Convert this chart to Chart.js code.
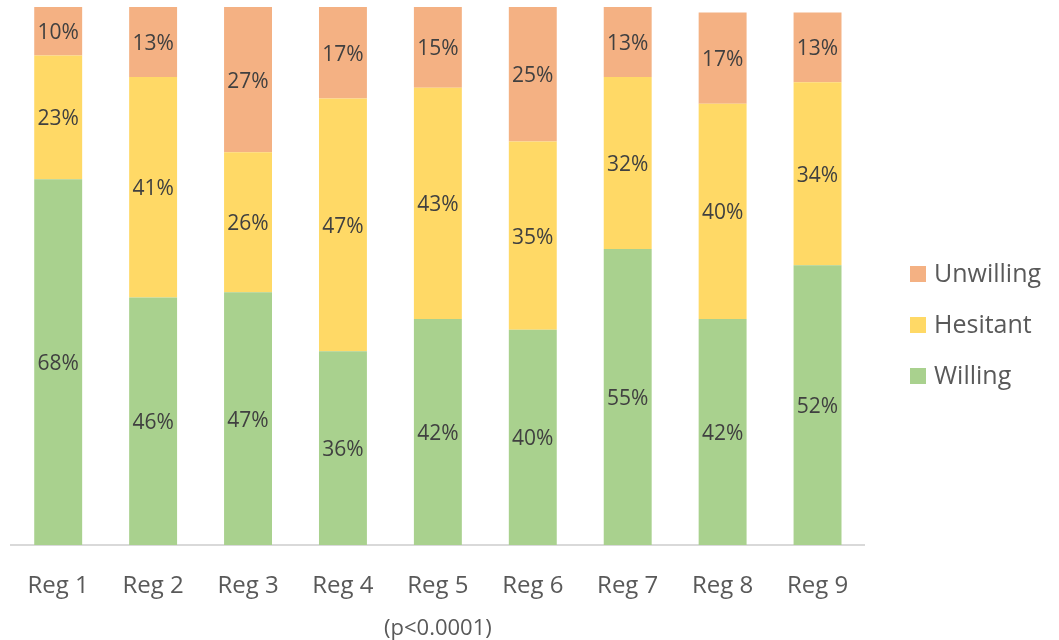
<!DOCTYPE html>
<html>
<head>
<meta charset="utf-8">
<script src="https://cdn.jsdelivr.net/npm/chart.js@4.4.1/dist/chart.umd.min.js"></script>
<style>
html,body{margin:0;padding:0;background:#fff;}
canvas{display:block;}
</style>
</head>
<body>
<canvas id="c" width="1059" height="640"></canvas>
<script>
const categories = ['Reg 1','Reg 2','Reg 3','Reg 4','Reg 5','Reg 6','Reg 7','Reg 8','Reg 9'];
const willing   = [68, 46, 47, 36, 42, 40, 55, 42, 52];
const hesitant  = [23, 41, 26, 47, 43, 35, 32, 40, 34];
const unwilling = [10, 13, 27, 17, 15, 25, 13, 17, 13];
const xTitle = '(p<0.0001)';

const FONT = "'Open Sans', sans-serif";

const valueLabels = {
  id: 'valueLabels',
  afterDatasetsDraw(chart) {
    const ctx = chart.ctx;
    const area = chart.chartArea;
    ctx.save();
    ctx.font = "21px " + FONT;
    ctx.fillStyle = '#404040';
    ctx.textAlign = 'center';
    ctx.textBaseline = 'middle';
    chart.data.datasets.forEach((ds, di) => {
      const meta = chart.getDatasetMeta(di);
      meta.data.forEach((el, i) => {
        const top = Math.max(Math.min(el.y, el.base), area.top);
        const bot = Math.min(Math.max(el.y, el.base), area.bottom);
        ctx.fillText(ds.data[i] + '%', el.x, (top + bot) / 2 + 2);
      });
    });
    ctx.restore();
  }
};

const sideLegend = {
  id: 'sideLegend',
  afterDraw(chart) {
    const ctx = chart.ctx;
    const ds = chart.data.datasets.slice().reverse();
    ctx.save();
    ctx.font = "25px " + FONT;
    ctx.textBaseline = 'middle';
    ctx.textAlign = 'left';
    ds.forEach((d, i) => {
      const cy = 274 + i * 51;
      ctx.fillStyle = d.backgroundColor;
      ctx.fillRect(910, cy - 8, 16, 16);
      ctx.fillStyle = '#595959';
      ctx.fillText(d.label, 934, cy + 1);
    });
    ctx.restore();
  }
};

new Chart(document.getElementById('c'), {
  type: 'bar',
  data: {
    labels: categories,
    datasets: [
      { label: 'Willing', data: willing, backgroundColor: '#A9D18E' },
      { label: 'Hesitant', data: hesitant, backgroundColor: '#FFD966' },
      { label: 'Unwilling', data: unwilling, backgroundColor: '#F4B183' }
    ]
  },
  options: {
    responsive: false,
    animation: false,
    layout: { padding: { left: 10, right: 194, top: 7, bottom: 0 } },
    datasets: { bar: { categoryPercentage: 1, barPercentage: 0.505, borderWidth: 0 } },
    plugins: { legend: { display: false }, tooltip: { enabled: false } },
    scales: {
      x: {
        stacked: true,
        grid: { display: false, drawTicks: false },
        border: { display: true, color: '#D9D9D9', width: 2 },
        ticks: { color: '#595959', font: { family: FONT, size: 24 }, padding: 27 },
        title: { display: true, text: xTitle, color: '#595959', font: { family: FONT, size: 22 }, padding: { top: 4, bottom: -2 } },
        afterFit(s) { s.height = 95; }
      },
      y: {
        stacked: true,
        display: false,
        min: 0,
        max: 100
      }
    }
  },
  plugins: [valueLabels, sideLegend]
});
</script>
</body>
</html>
